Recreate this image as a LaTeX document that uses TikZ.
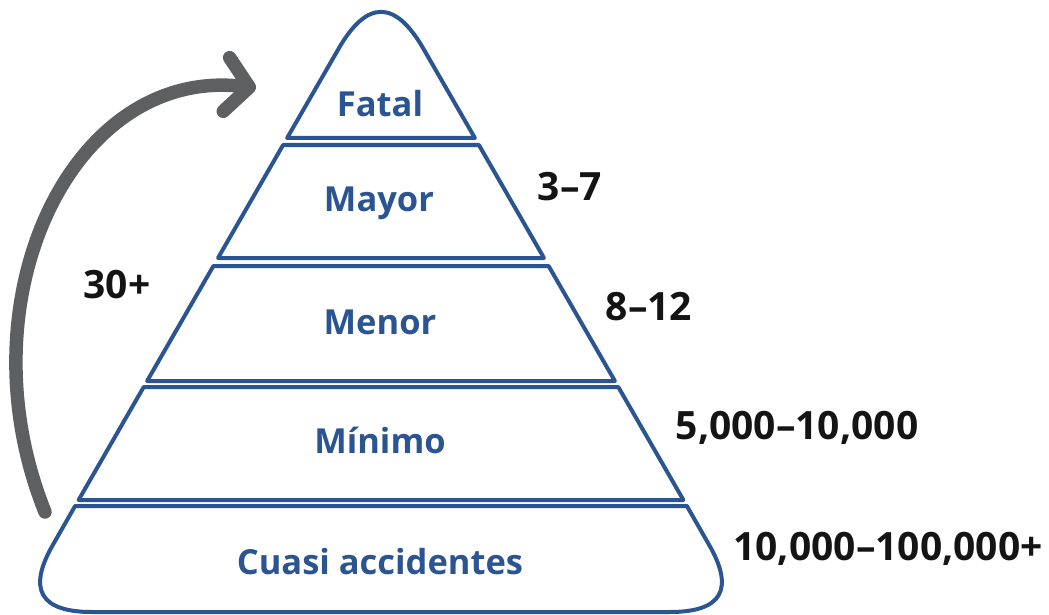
\documentclass[tikz,border=0pt]{standalone}
\usepackage{fontspec}
\setmainfont{Open Sans}
\usetikzlibrary{arrows.meta,positioning}
\definecolor{pyrblue}{HTML}{2B5592}
\definecolor{arrowgray}{HTML}{5E5F61}
\definecolor{numblack}{HTML}{141414}
\begin{document}
\begin{tikzpicture}[
            x=1pt,y=-1pt,
            band/.style={draw=pyrblue,line width=4pt,line join=round},
            tier/.style={text=pyrblue,font=\fontsize{34.5}{40}\selectfont\bfseries,inner sep=0pt},
            count/.style={text=numblack,font=\fontsize{39}{46}\selectfont\bfseries,inner sep=0pt},
            loop/.style={draw=arrowgray,line width=13.5pt,line cap=round,-{Straight Barb[length=23pt,width=54pt,line width=13.5pt,round]}}
        ]
            \useasboundingbox (0,0) rectangle (1049,615);

            \draw[band] (287.1,138) -- (338.6,48.7) .. controls (366.9,-0.4) and (395.1,-0.4) .. (423.4,48.7) -- (474.9,138) -- cycle;
            \draw[band] (283.1,145) -- (478.9,145) -- (544,258) -- (218,258) -- cycle;
            \draw[band] (213.4,266) -- (548.6,266) -- (614.9,381) -- (147.1,381) -- cycle;
            \draw[band] (143.7,387) -- (618.3,387) -- (683.4,500) -- (78.6,500) -- cycle;
            \draw[band] (75.1,506) -- (686.9,506) -- (708.9,544.5) .. controls (734.9,589.5) and (721.9,612) .. (669.9,612)
                -- (92.1,612) .. controls (40.1,612) and (27.1,589.5) .. (53.1,544.5) -- cycle;

            \node[tier] (fatal) at (380,104) {Fatal};
            \node[tier] (mayor) at (379,203) {Mayor};
            \node[tier] (menor) at (380,322) {Menor};
            \node[tier] (minimo) at (380,440) {Mínimo};
            \node[tier] (cuasi) at (380,562) {Cuasi accidentes};

            \node[count] (mayorcount) at (570,187) {3–7};
            \node[count] (menorcount) at (649,307) {8–12};
            \node[count] (minimocount) at (797,428) {5,000–10,000};
            \node[count] (cuasicount) at (888,549) {10,000–100,000+};
            \node[count] (loopcount) at (117,285) {30+};

            \coordinate (loopstart) at (45,512);
            \coordinate (loopend) at (256,88);
            \draw[loop] (loopstart) .. controls (-40,300) and (72,66) .. (loopend);
        \end{tikzpicture}
\end{document}
